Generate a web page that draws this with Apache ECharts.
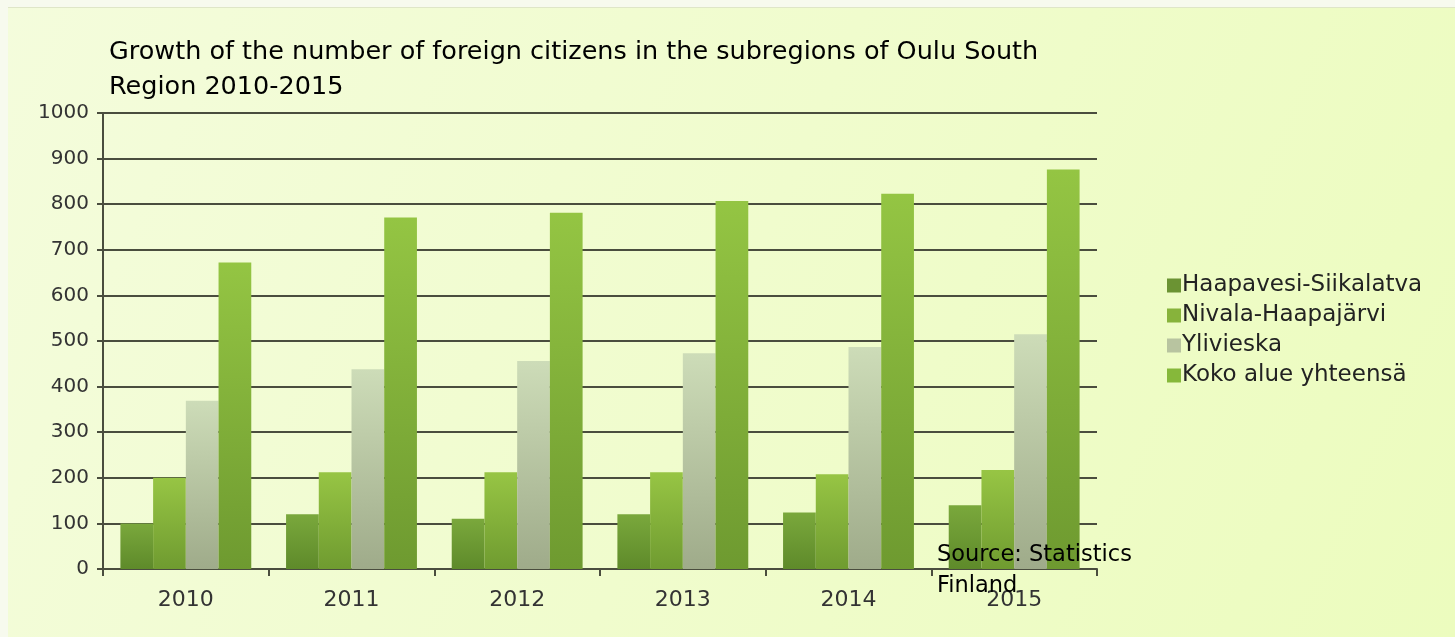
<!DOCTYPE html>
<html>
<head>
<meta charset="utf-8">
<script src="https://cdn.jsdelivr.net/npm/echarts@6/dist/echarts.min.js"></script>
<style>
  html, body { margin: 0; padding: 0; background: #f6faea; }
  #chart { width: 1455px; height: 637px; }
</style>
</head>
<body>
<div id="chart"></div>
<script>
// data
var years = ['2010', '2011', '2012', '2013', '2014', '2015'];
var seriesNames = ['Haapavesi-Siikalatva', 'Nivala-Haapajärvi', 'Ylivieska', 'Koko alue yhteensä'];
var haapavesi = [100, 120, 110, 120, 124, 140];
var nivala = [200, 212, 212, 212, 208, 217];
var ylivieska = [369, 438, 456, 473, 487, 515];
var koko = [672, 771, 781, 807, 823, 876];
var yTicks = [0, 100, 200, 300, 400, 500, 600, 700, 800, 900, 1000];

var myChart = echarts.init(document.getElementById('chart'));

function grad(top, bottom) {
    return new echarts.graphic.LinearGradient(0, 0, 0, 1, [
        { offset: 0, color: top },
        { offset: 1, color: bottom }
    ]);
}

var barColors = [
    grad('#7aa83c', '#5e8a2a'),
    grad('#97c544', '#6f9b30'),
    grad('#cddcb8', '#9fab8a'),
    grad('#94c543', '#6e9a30')
];
var legendColors = ['#6b9333', '#87b33b', '#b8c4a0', '#86b83a'];
var values = [haapavesi, nivala, ylivieska, koko];

var series = [];
for (var i = 0; i < seriesNames.length; i++) {
    series.push({
        name: seriesNames[i],
        type: 'bar',
        data: values[i],
        barGap: '0%',
        barCategoryGap: '21%',
        itemStyle: { color: barColors[i] },
        z: 3
    });
}

var option = {
    backgroundColor: new echarts.graphic.LinearGradient(0, 0, 1, 1, [
        { offset: 0, color: '#f4fcdc' },
        { offset: 1, color: '#ecfcbe' }
    ]),
    animation: false,
    textStyle: { fontFamily: 'DejaVu Sans' },
    title: {
        text: 'Growth of the number of foreign citizens in the subregions of Oulu South\nRegion 2010-2015',
        left: 104,
        top: 30,
        textStyle: {
            fontFamily: 'DejaVu Sans',
            fontSize: 25.5,
            fontWeight: 'normal',
            color: '#000',
            lineHeight: 35
        }
    },
    legend: {
        orient: 'vertical',
        left: 1162,
        top: 269,
        icon: 'rect',
        itemWidth: 14,
        itemHeight: 14,
        itemGap: 7,
        textStyle: { fontFamily: 'DejaVu Sans', fontSize: 23, color: '#222', padding: [0, 0, 0, -4] },
        data: seriesNames.map(function (n, k) {
            return { name: n, itemStyle: { color: legendColors[k] } };
        })
    },
    grid: { left: 103, right: 358, top: 113, bottom: 68 },
    xAxis: {
        type: 'category',
        data: years,
        axisLine: { lineStyle: { color: '#4a4d3e', width: 2 } },
        axisTick: { show: true, interval: 0, length: 7, lineStyle: { color: '#4a4d3e', width: 2 } },
        axisLabel: { fontFamily: 'DejaVu Sans', fontSize: 22, color: '#333', margin: 20 }
    },
    yAxis: {
        type: 'value',
        min: yTicks[0],
        max: yTicks[yTicks.length - 1],
        interval: 100,
        axisLine: { show: true, lineStyle: { color: '#4a4d3e', width: 2 } },
        axisTick: { show: true, length: 6, lineStyle: { color: '#4a4d3e', width: 2 } },
        axisLabel: { fontFamily: 'DejaVu Sans', fontSize: 20, color: '#333', margin: 14, formatter: function (v) { return String(v); } },
        splitLine: { lineStyle: { color: '#4a4d3e', width: 2 } }
    },
    graphic: [
        { type: 'rect', shape: { x: 0, y: 0, width: 1455, height: 7 }, style: { fill: '#f7faee' }, z: -1 },
        { type: 'rect', shape: { x: 0, y: 0, width: 8, height: 637 }, style: { fill: '#f7faee' }, z: -1 },
        { type: 'rect', shape: { x: 8, y: 7, width: 1447, height: 1 }, style: { fill: '#dfe6c8' }, z: -1 },
        {
            type: 'text',
            left: 937,
            top: 540,
            z: 10,
            style: {
                text: 'Source: Statistics\nFinland',
                fontFamily: 'DejaVu Sans',
                fontSize: 22.5,
                lineHeight: 31,
                fill: '#000'
            }
        }
    ],
    series: series
};
myChart.setOption(option);
</script>
</body>
</html>
